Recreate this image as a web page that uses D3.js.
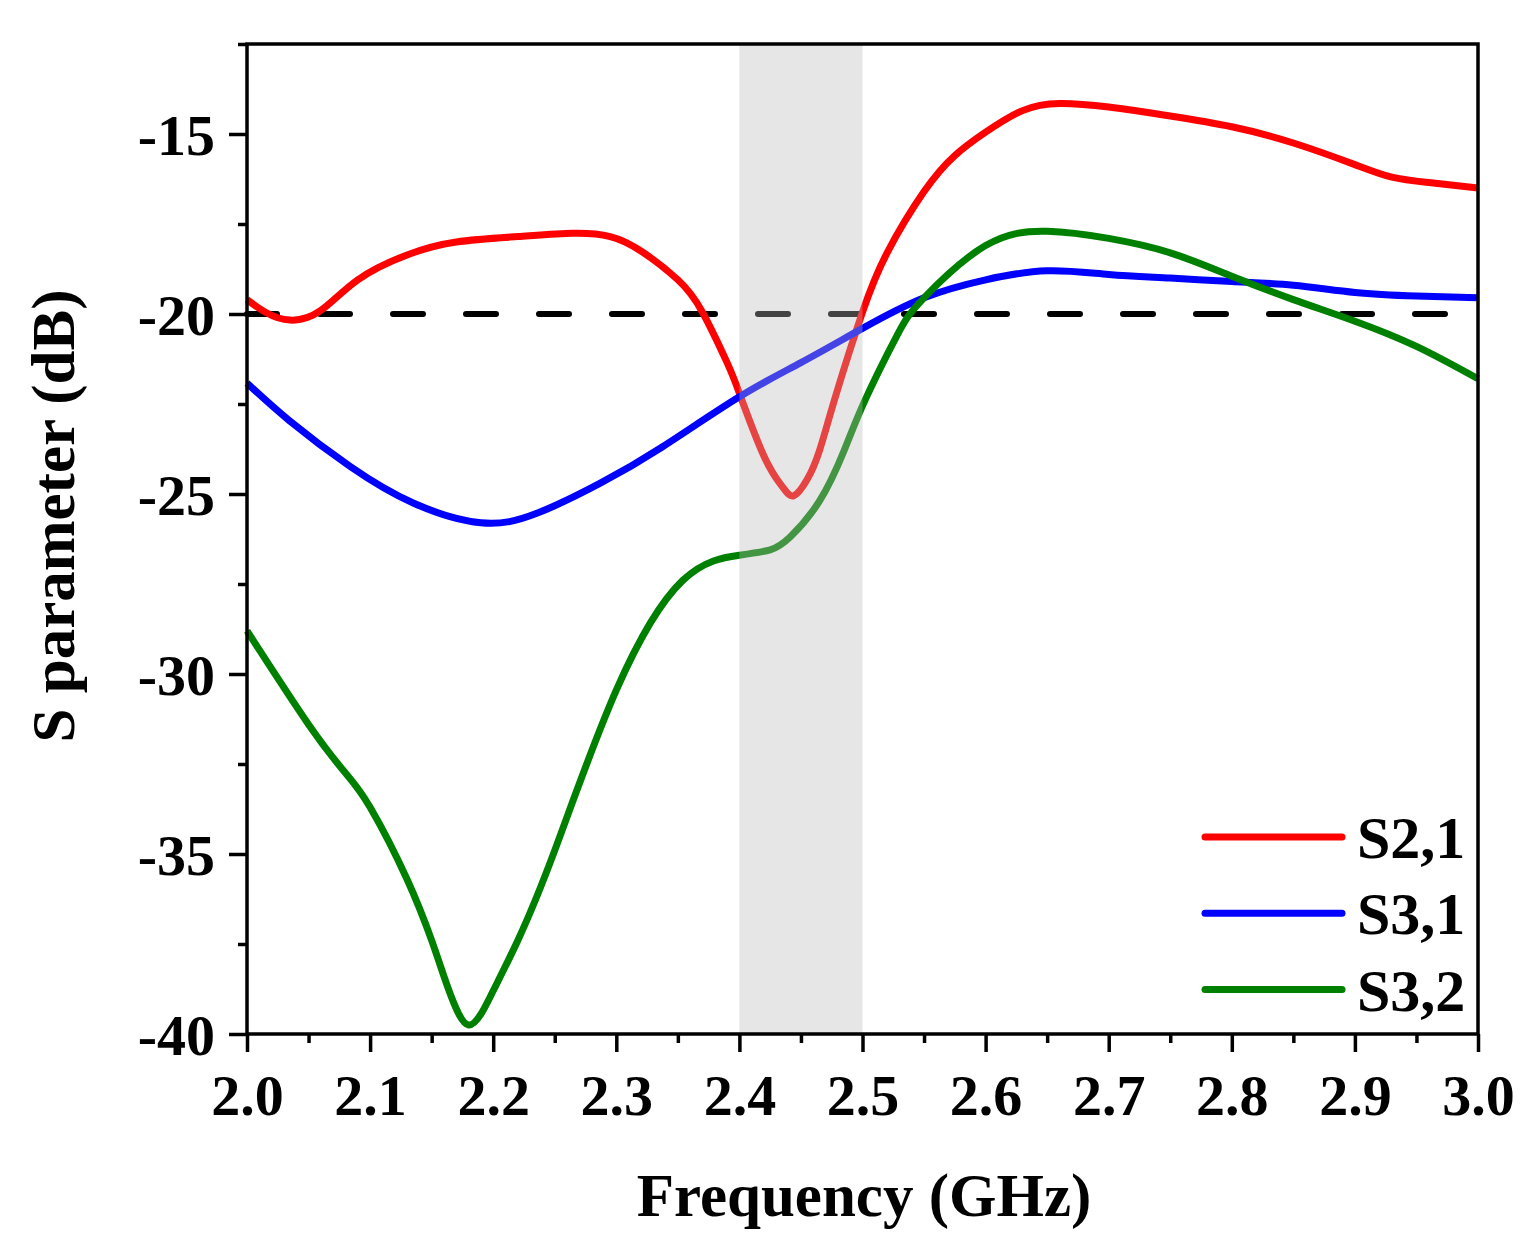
<!DOCTYPE html>
<html>
<head>
    <meta charset="utf-8">
    <title>S parameter</title>
    <script src="https://d3js.org/d3.v7.min.js"></script>
    <style>
        body {
            margin: 0;
            background: #fff;
            overflow: hidden;
        }
        svg text {
            font-family: "Liberation Serif", "Times New Roman", serif;
            font-weight: bold;
            fill: #000;
        }
    </style>
</head>
<body>
    <svg width="1525" height="1242"></svg>

    <script>
    // frequency points (GHz) and S parameters (dB)
    const freqS21 = [2.00, 2.015, 2.035, 2.06, 2.09, 2.13, 2.17, 2.22, 2.265, 2.295, 2.32, 2.35, 2.37, 2.39, 2.40, 2.42, 2.435, 2.444, 2.455, 2.465, 2.478, 2.50, 2.52, 2.55, 2.575, 2.60, 2.63, 2.66, 2.70, 2.75, 2.80, 2.85, 2.90, 2.93, 2.96, 3.00];
    const s21 = [-19.6, -19.95, -20.17, -19.9, -19.05, -18.36, -18.0, -17.85, -17.76, -17.85, -18.25, -19.05, -19.95, -21.35, -22.2, -23.95, -24.8, -25.05, -24.6, -23.8, -22.3, -19.95, -18.3, -16.6, -15.6, -14.95, -14.35, -14.15, -14.25, -14.5, -14.8, -15.25, -15.85, -16.2, -16.35, -16.5];

    const freqS31 = [2.00, 2.034, 2.084, 2.135, 2.19, 2.236, 2.287, 2.337, 2.40, 2.45, 2.50, 2.55, 2.60, 2.65, 2.70, 2.75, 2.80, 2.85, 2.90, 2.95, 3.00];
    const s31 = [-21.92, -22.95, -24.24, -25.25, -25.8, -25.53, -24.7, -23.7, -22.3, -21.35, -20.4, -19.55, -19.05, -18.8, -18.9, -19.0, -19.1, -19.2, -19.4, -19.5, -19.55];

    const freqS32 = [2.00, 2.05, 2.08, 2.10, 2.13, 2.15, 2.16, 2.17, 2.18, 2.19, 2.20, 2.22, 2.25, 2.30, 2.354, 2.40, 2.425, 2.441, 2.465, 2.485, 2.502, 2.528, 2.55, 2.60, 2.65, 2.70, 2.75, 2.80, 2.85, 2.90, 2.95, 3.00];
    const s32 = [-28.8, -31.4, -32.75, -33.7, -35.7, -37.4, -38.4, -39.3, -39.75, -39.45, -38.8, -37.4, -34.9, -30.45, -27.4, -26.7, -26.55, -26.2, -25.2, -23.8, -22.4, -20.6, -19.55, -18.1, -17.7, -17.9, -18.3, -18.95, -19.6, -20.2, -20.9, -21.8];

    const seriesNames = ["S2,1", "S3,1", "S3,2"];
    const seriesColors = ["#ff0000", "#0000ff", "#008000"];

    const xTicks = [2.0, 2.1, 2.2, 2.3, 2.4, 2.5, 2.6, 2.7, 2.8, 2.9, 3.0];
    const xMinorTicks = [2.05, 2.15, 2.25, 2.35, 2.45, 2.55, 2.65, 2.75, 2.85, 2.95];
    const yTicks = [-40, -35, -30, -25, -20, -15];
    const yMinorTicks = [-37.5, -32.5, -27.5, -22.5, -17.5, -12.5];
    const threshold = -20;
    const band = [2.4, 2.5];

    const svg = d3.select("svg");
    const plotLeft = 247, plotRight = 1478, plotTop = 44, plotBottom = 1034;

    const x = d3.scaleLinear().domain([2.0, 3.0]).range([plotLeft, plotRight]);
    const y = d3.scaleLinear().domain([-40, -12.5]).range([plotBottom, plotTop]);

    const series = [
        freqS21.map((f, i) => [f, s21[i]]),
        freqS31.map((f, i) => [f, s31[i]]),
        freqS32.map((f, i) => [f, s32[i]])
    ];

    const line = d3.line()
        .x(d => x(d[0]))
        .y(d => y(d[1]))
        .curve(d3.curveNatural);

    // dashed -20 dB line
    svg.append("line")
        .attr("x1", x(2.0)).attr("x2", x(3.0))
        .attr("y1", y(threshold)).attr("y2", y(threshold))
        .attr("stroke", "#000")
        .attr("stroke-width", 6)
        .attr("stroke-dasharray", "30,43")
        .attr("stroke-linecap", "round");

    // curves
    series.forEach((s, i) => {
        svg.append("path")
            .datum(s)
            .attr("d", line)
            .attr("fill", "none")
            .attr("stroke", seriesColors[i])
            .attr("stroke-width", 7)
            .attr("stroke-linejoin", "round");
    });

    // shaded band over the curves
    svg.append("rect")
        .attr("x", x(band[0]))
        .attr("width", x(band[1]) - x(band[0]))
        .attr("y", plotTop)
        .attr("height", plotBottom - plotTop)
        .attr("fill", "#bababa")
        .attr("fill-opacity", 0.36);

    // axes
    const hyphenFormat = d => String(d).replace("\u2212", "-");
    const xAxis = d3.axisBottom(x).tickValues(xTicks).tickFormat(d3.format(".1f")).tickSize(18).tickPadding(22);
    const xMinor = d3.axisBottom(x).tickValues(xMinorTicks).tickFormat("").tickSize(9);
    const yAxis = d3.axisLeft(y).tickValues(yTicks).tickFormat(hyphenFormat).tickSize(18).tickPadding(14);
    const yMinor = d3.axisLeft(y).tickValues(yMinorTicks).tickFormat("").tickSize(9);

    function styleAxis(g) {
        g.select(".domain").remove();
        g.selectAll("line").attr("stroke", "#000").attr("stroke-width", 3.5);
        g.selectAll("text").style("font-size", "58px").attr("fill", "#000");
    }

    svg.append("g").attr("transform", `translate(0,${plotBottom})`).call(xAxis).call(styleAxis)
        .selectAll("text").attr("dy", "0.71em");
    svg.append("g").attr("transform", `translate(0,${plotBottom})`).call(xMinor).call(styleAxis);
    svg.append("g").attr("transform", `translate(${plotLeft},0)`).call(yAxis).call(styleAxis)
        .selectAll("text").attr("dy", "0.35em");
    svg.append("g").attr("transform", `translate(${plotLeft},0)`).call(yMinor).call(styleAxis);

    // frame
    svg.append("rect")
        .attr("x", plotLeft).attr("y", plotTop)
        .attr("width", plotRight - plotLeft).attr("height", plotBottom - plotTop)
        .attr("fill", "none")
        .attr("stroke", "#000")
        .attr("stroke-width", 3.5);

    // axis titles
    svg.append("text")
        .attr("x", 864)
        .attr("y", 1216)
        .attr("text-anchor", "middle")
        .style("font-size", "61px")
        .text("Frequency (GHz)");

    svg.append("text")
        .attr("transform", "translate(74,516) rotate(-90)")
        .attr("text-anchor", "middle")
        .style("font-size", "61px")
        .text("S parameter (dB)");

    // legend
    const legend = svg.append("g");
    seriesNames.forEach((name, i) => {
        const ly = 837 + i * 76.3;
        legend.append("line")
            .attr("x1", 1205).attr("x2", 1342)
            .attr("y1", ly).attr("y2", ly)
            .attr("stroke", seriesColors[i])
            .attr("stroke-width", 7)
            .attr("stroke-linecap", "round");
        legend.append("text")
            .attr("x", 1357)
            .attr("y", ly)
            .attr("dy", "0.35em")
            .style("font-size", "60px")
            .text(name);
    });
    </script>
</body>
</html>
